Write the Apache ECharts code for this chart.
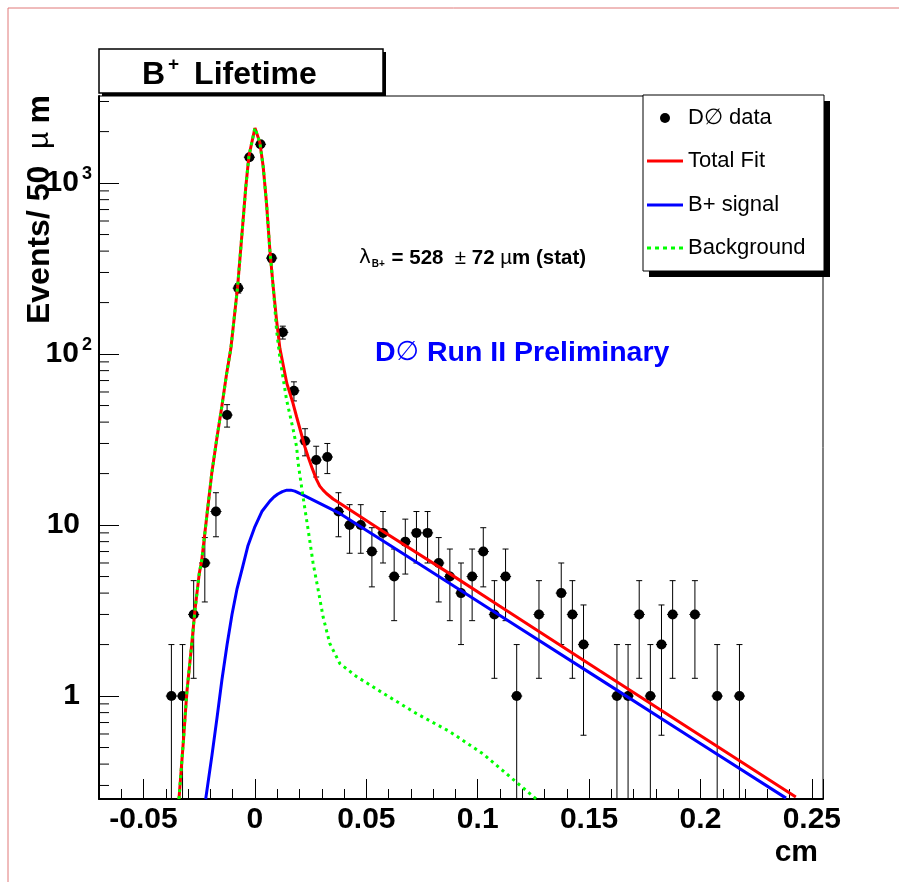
<!DOCTYPE html>
<html>
<head>
<meta charset="utf-8">
<script src="https://cdn.jsdelivr.net/npm/echarts@6/dist/echarts.min.js"></script>
<style>
html, body { margin: 0; padding: 0; background: #fff; }
#main { width: 899px; height: 882px; }
</style>
</head>
<body>
<div id="main"></div>
<script>
// bin centres (cm) and event counts (empty bins left out)
var binX = [-0.0375, -0.0325, -0.0275, -0.0225, -0.0175, -0.0125, -0.0075, -0.0025, 0.0025, 0.0075,
            0.0125, 0.0175, 0.0225, 0.0275, 0.0325, 0.0375, 0.0425, 0.0475, 0.0525, 0.0575,
            0.0625, 0.0675, 0.0725, 0.0775, 0.0825, 0.0875, 0.0925, 0.0975, 0.1025, 0.1075,
            0.1125, 0.1175, 0.1275, 0.1375, 0.1425, 0.1475, 0.1625, 0.1675, 0.1725, 0.1775,
            0.1825, 0.1875, 0.1975, 0.2075, 0.2175];
var counts = [1, 1, 3, 6, 12, 44, 243, 1417, 1686, 364,
              134, 61, 31, 24, 25, 12, 10, 10, 7, 9,
              5, 8, 9, 9, 6, 5, 4, 5, 7, 3,
              5, 1, 3, 4, 3, 2, 1, 1, 3, 1,
              2, 3, 3, 1, 1];
var countErr = [1, 1, 1.73, 2.45, 3.46, 6.6, 15.6, 37.6, 41.1, 19.1,
                11.6, 7.8, 5.6, 4.9, 5, 3.46, 3.16, 3.16, 2.65, 3,
                2.24, 2.83, 3, 3, 2.45, 2.24, 2, 2.24, 2.65, 1.73,
                2.24, 1, 1.73, 2, 1.73, 1.41, 1, 1, 1.73, 1,
                1.41, 1.73, 1.73, 1, 1];

// fitted curves
var totalX = [-0.0341, -0.0321, -0.0306, -0.0284, -0.0269, -0.0250, -0.0239, -0.0216, -0.0194, -0.0172,
              -0.0149, -0.0127, -0.0108, -0.0078, -0.0059, -0.0041, -0.0027, 0, 0.0022, 0.0037,
              0.0052, 0.0067, 0.0082, 0.0097, 0.0112, 0.0143, 0.0170, 0.0187, 0.0224, 0.0239,
              0.0258, 0.0276, 0.0291, 0.0306, 0.0321, 0.0351, 0.0381, 0.0574, 0.0874, 0.1098,
              0.1546, 0.1994, 0.2428];
var totalY = [0.25, 0.55, 1.04, 2.0, 3.2, 5.2, 6.2, 11.3, 20, 31.5,
              49, 77, 108, 246, 490, 950, 1440, 2100, 1730, 1250,
              760, 405, 247, 158, 108, 67.5, 52, 43, 28.7, 25,
              21.3, 18.5, 16.9, 16.0, 15.3, 14.2, 13.4, 9.2, 5.2, 3.36,
              1.41, 0.594, 0.257];

var signalX = [-0.0221, -0.0193, -0.0170, -0.0148, -0.0125, -0.0103, -0.0081, -0.0058, -0.0031, 0,
               0.0031, 0.0067, 0.0085, 0.0103, 0.0123, 0.0143, 0.0161, 0.0179, 0.0215, 0.0291,
               0.0381, 0.0650, 0.1098, 0.1546, 0.1994, 0.2384];
var signalY = [0.25, 0.45, 0.75, 1.25, 2.0, 3.0, 4.2, 5.5, 7.6, 9.8,
               12.0, 13.8, 14.6, 15.2, 15.7, 16.0, 16.0, 15.8, 15.0, 13.4,
               11.7, 7.0, 2.97, 1.26, 0.534, 0.253];

var bkgX = [-0.0341, -0.0321, -0.0306, -0.0284, -0.0269, -0.0250, -0.0239, -0.0216, -0.0194, -0.0172,
            -0.0149, -0.0127, -0.0108, -0.0078, -0.0059, -0.0041, -0.0027, 0, 0.0022, 0.0037,
            0.0052, 0.0067, 0.0082, 0.0097, 0.0112, 0.0142, 0.0172, 0.0187, 0.0194, 0.0216,
            0.0239, 0.0261, 0.0284, 0.0306, 0.0336, 0.0381, 0.0456, 0.0575, 0.0725, 0.0874,
            0.1023, 0.1098, 0.1263];
var bkgY = [0.25, 0.55, 1.04, 2.0, 3.2, 5.2, 6.2, 11.3, 20, 31.5,
            49, 77, 108, 246, 490, 950, 1440, 2100, 1730, 1250,
            760, 405, 247, 138, 95, 54, 36, 28.7, 23, 14.6,
            9.35, 6.0, 4.17, 2.9, 2.03, 1.55, 1.30, 1.04, 0.79, 0.62,
            0.46, 0.38, 0.25];

var yMinorTicks = [0.3, 0.4, 0.5, 0.6, 0.7, 0.8, 0.9,
                   2, 3, 4, 5, 6, 7, 8, 9,
                   20, 30, 40, 50, 60, 70, 80, 90,
                   200, 300, 400, 500, 600, 700, 800, 900,
                   2000, 3000];

var X_MIN = -0.07, X_MAX = 0.255;
var Y_MIN = 0.25, Y_MAX = 3230;
var BIN_W = 0.005;
var FONT = 'Liberation Sans, Arial';

function zip(xs, ys) {
    var out = [];
    for (var i = 0; i < xs.length; i++) out.push([xs[i], ys[i]]);
    return out;
}

var pointData = [];
for (var i = 0; i < binX.length; i++) {
    pointData.push([binX[i], counts[i], countErr[i]]);
}

// error bar + marker for one histogram bin
function renderPoint(params, api) {
    var x = api.value(0), y = api.value(1), e = api.value(2);
    var c = api.coord([x, y]);
    var top = api.coord([x, y + e]);
    var lowClipped = (y - e) <= Y_MIN;
    var bot = api.coord([x, lowClipped ? Y_MIN : y - e]);
    var left = api.coord([x - BIN_W / 2, y]);
    var right = api.coord([x + BIN_W / 2, y]);
    var ls = { stroke: '#000', lineWidth: 1 };
    var kids = [
        { type: 'line', shape: { x1: c[0], y1: top[1], x2: c[0], y2: bot[1] }, style: ls },
        { type: 'line', shape: { x1: c[0] - 3, y1: top[1], x2: c[0] + 3, y2: top[1] }, style: ls },
        { type: 'line', shape: { x1: left[0], y1: c[1], x2: right[0], y2: c[1] }, style: ls },
        { type: 'circle', shape: { cx: c[0], cy: c[1], r: 5 }, style: { fill: '#000' } }
    ];
    if (!lowClipped) {
        kids.push({ type: 'line', shape: { x1: c[0] - 3, y1: bot[1], x2: c[0] + 3, y2: bot[1] }, style: ls });
    }
    return { type: 'group', children: kids };
}

// log-axis minor ticks drawn inward from the y axis
function renderMinorTick(params, api) {
    var p = api.coord([api.value(0), api.value(1)]);
    return { type: 'line', shape: { x1: p[0], y1: p[1], x2: p[0] + 10, y2: p[1] },
             style: { stroke: '#000', lineWidth: 1 } };
}

function isPow10(v) {
    var l = Math.log(v) / Math.LN10;
    return Math.abs(l - Math.round(l)) < 1e-6;
}

var chart = echarts.init(document.getElementById('main'));

var option = {
    animation: false,
    backgroundColor: '#fff',
    grid: { left: 99, right: 76, top: 96, bottom: 83, show: true,
            borderColor: '#000', borderWidth: 1, backgroundColor: 'transparent' },
    xAxis: {
        type: 'value', min: X_MIN, max: X_MAX,
        axisLine: { onZero: false, lineStyle: { color: '#000', width: 2 } },
        axisTick: { inside: true, length: 20, lineStyle: { color: '#000', width: 1 } },
        minorTick: { show: true, splitNumber: 5, length: 10, lineStyle: { color: '#000', width: 1 } },
        splitLine: { show: false },
        axisLabel: {
            color: '#000', fontSize: 30, fontWeight: 'bold', fontFamily: FONT,
            margin: 6, interval: 0, showMinLabel: false, showMaxLabel: false,
            formatter: function (v) {
                var k = v / 0.05;
                return Math.abs(k - Math.round(k)) < 1e-6 ? String(Math.round(k) * 5 / 100) : '';
            }
        }
    },
    yAxis: {
        type: 'log', logBase: 10, min: Y_MIN, max: Y_MAX,
        axisLine: { onZero: false, lineStyle: { color: '#000', width: 2 } },
        axisTick: { inside: true, length: 20, lineStyle: { color: '#000', width: 1 } },
        splitLine: { show: false },
        axisLabel: {
            color: '#000', fontSize: 30, fontWeight: 'bold', fontFamily: FONT,
            margin: 7, showMinLabel: false, showMaxLabel: false,
            formatter: function (v) {
                if (!isPow10(v)) return '';
                var e = Math.round(Math.log(v) / Math.LN10);
                if (e === 0) return '{p|1}';
                if (e === 1) return '{p|10}';
                return '{b|10}{s|' + e + '}';
            },
            rich: {
                p: { fontSize: 30, fontWeight: 'bold', padding: [0, 12, 0, 0] },
                b: { fontSize: 30, fontWeight: 'bold' },
                s: { fontSize: 18, fontWeight: 'bold', padding: [0, 0, 18, 3] }
            }
        }
    },
    series: [
        {
            name: 'minor ticks', type: 'custom', silent: true, clip: true,
            renderItem: renderMinorTick,
            data: yMinorTicks.map(function (v) { return [X_MIN, v]; })
        },
        {
            name: 'D\u2205 data', type: 'custom', clip: true,
            renderItem: renderPoint,
            encode: { x: 0, y: 1 },
            data: pointData
        },
        {
            name: 'Total Fit', type: 'line', showSymbol: false, clip: true, smooth: false,
            lineStyle: { color: '#ff0000', width: 3 },
            data: zip(totalX, totalY)
        },
        {
            name: 'B+ signal', type: 'line', showSymbol: false, clip: true, smooth: false,
            lineStyle: { color: '#0000ff', width: 3 },
            data: zip(signalX, signalY)
        },
        {
            name: 'Background', type: 'line', showSymbol: false, clip: true, smooth: false,
            lineStyle: { color: '#00ff00', width: 3, type: [3, 4] },
            data: zip(bkgX, bkgY)
        }
    ],
    graphic: [
        // page frame
        { type: 'line', shape: { x1: 8, y1: 8, x2: 899, y2: 8 }, style: { stroke: '#e07878', lineWidth: 1 } },
        { type: 'line', shape: { x1: 8, y1: 8, x2: 8, y2: 882 }, style: { stroke: '#e07878', lineWidth: 1 } },
        // title box
        { type: 'rect', shape: { x: 102, y: 52, width: 284, height: 44 }, style: { fill: '#000' } },
        { type: 'rect', shape: { x: 99, y: 49, width: 284, height: 44 },
          style: { fill: '#fff', stroke: '#000', lineWidth: 1.5 } },
        { type: 'text', x: 142, y: 75,
          style: { text: '{b|B}{s|+}{b| Lifetime}', verticalAlign: 'middle', align: 'left',
                   rich: {
                       b: { fontSize: 32, fontWeight: 'bold', fontFamily: FONT, fill: '#000' },
                       s: { fontSize: 19, fontWeight: 'bold', fontFamily: FONT, fill: '#000',
                            padding: [0, 6, 20, 3] }
                   } } },
        // y axis title
        { type: 'text', x: 40, y: 95, rotation: Math.PI / 2,
          style: { text: '{b|Events/ 50}{r|  \u00b5 }{b|m}', align: 'right', verticalAlign: 'middle',
                   rich: {
                       b: { fontSize: 32, fontWeight: 'bold', fontFamily: FONT, fill: '#000' },
                       r: { fontSize: 30, fontFamily: FONT, fill: '#000' }
                   } } },
        // x axis title
        { type: 'text', x: 818, y: 853,
          style: { text: 'cm', align: 'right', verticalAlign: 'middle', fontSize: 30, fontWeight: 'bold',
                   fontFamily: FONT, fill: '#000' } },
        // fit result
        { type: 'text', x: 359, y: 258,
          style: { text: '{l|\u03bb}{sub|B+}{t| = 528  }{r|\u00b1}{t| 72 }{r|\u00b5}{t|m (stat)}',
                   align: 'left', verticalAlign: 'middle',
                   rich: {
                       l: { fontSize: 20, fontFamily: 'DejaVu Sans', fill: '#000' },
                       sub: { fontSize: 10, fontWeight: 'bold', fontFamily: FONT, fill: '#000',
                              padding: [13, 1, 0, 1] },
                       t: { fontSize: 20.5, fontWeight: 'bold', fontFamily: FONT, fill: '#000' },
                       r: { fontSize: 20.5, fontFamily: FONT, fill: '#000' }
                   } } },
        // experiment label
        { type: 'text', x: 375, y: 353,
          style: { text: '{b|D}{r|\u2205}{b| Run II Preliminary}', align: 'left', verticalAlign: 'middle',
                   rich: {
                       b: { fontSize: 28.5, fontWeight: 'bold', fontFamily: FONT, fill: '#0000ff' },
                       r: { fontSize: 27, fontFamily: 'DejaVu Sans', fill: '#0000ff' }
                   } } },
        // legend
        { type: 'rect', shape: { x: 649, y: 101, width: 181, height: 176 }, style: { fill: '#000' } },
        { type: 'rect', shape: { x: 643, y: 95, width: 181, height: 176 },
          style: { fill: '#fff', stroke: '#000', lineWidth: 1 } },
        { type: 'circle', shape: { cx: 665, cy: 118, r: 5 }, style: { fill: '#000' } },
        { type: 'line', shape: { x1: 647, y1: 161, x2: 683, y2: 161 }, style: { stroke: '#ff0000', lineWidth: 3 } },
        { type: 'line', shape: { x1: 647, y1: 205, x2: 683, y2: 205 }, style: { stroke: '#0000ff', lineWidth: 3 } },
        { type: 'line', shape: { x1: 647, y1: 248, x2: 683, y2: 248 },
          style: { stroke: '#00ff00', lineWidth: 3, lineDash: [4, 4] } },
        { type: 'text', x: 688, y: 118,
          style: { text: 'D\u2205 data', verticalAlign: 'middle', fontSize: 22, fontFamily: FONT, fill: '#000' } },
        { type: 'text', x: 688, y: 161,
          style: { text: 'Total Fit', verticalAlign: 'middle', fontSize: 22, fontFamily: FONT, fill: '#000' } },
        { type: 'text', x: 688, y: 205,
          style: { text: 'B+ signal', verticalAlign: 'middle', fontSize: 22, fontFamily: FONT, fill: '#000' } },
        { type: 'text', x: 688, y: 248,
          style: { text: 'Background', verticalAlign: 'middle', fontSize: 22, fontFamily: FONT, fill: '#000' } }
    ]
};

chart.setOption(option);
</script>
</body>
</html>
